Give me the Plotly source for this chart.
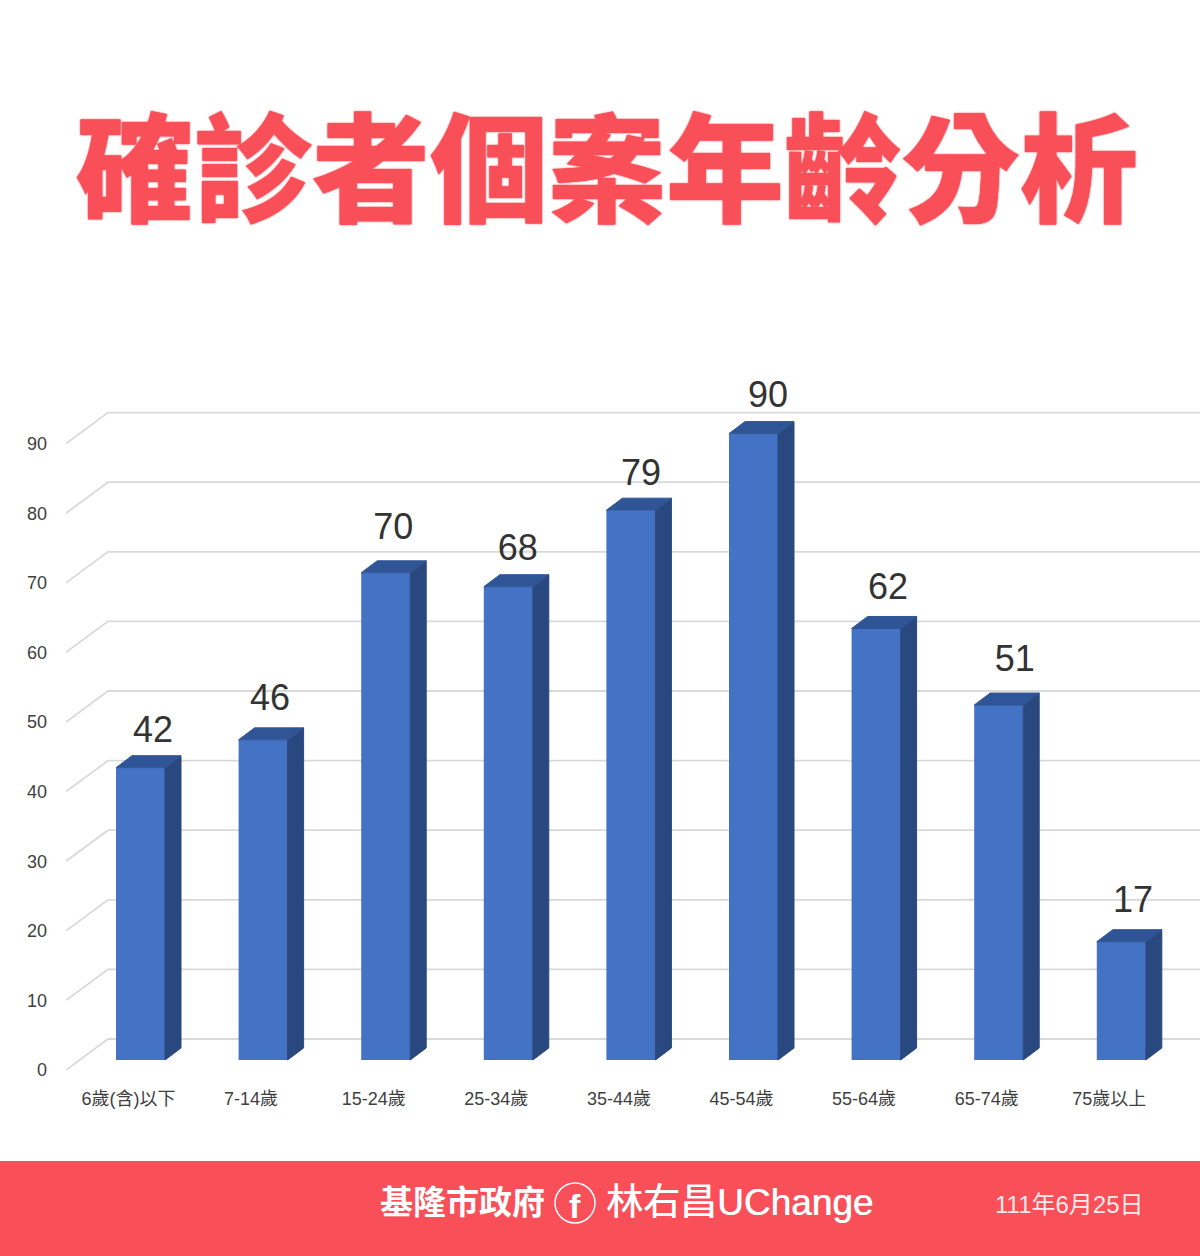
import plotly.graph_objects as go

categories = ["6歲(含)以下", "7-14歲", "15-24歲", "25-34歲", "35-44歲", "45-54歲", "55-64歲", "65-74歲", "75歲以上"]
cases = [42, 46, 70, 68, 79, 90, 62, 51, 17]
y_ticks = [0, 10, 20, 30, 40, 50, 60, 70, 80, 90]

TITLE = "確診者個案年齡分析"
RED = "#F94F59"
CJK = "Noto Sans CJK TC"
SANS = "Liberation Sans, Noto Sans CJK TC, sans-serif"
W, H = 1200, 1256

STEP = 122.6      # px per category
UNIT = 6.96       # px per case
L, T, B = 66, 370, 1070
BAR_W = 49 / STEP
DX, DY = 16 / STEP, 12 / UNIT          # bar depth
GX, GY = 42 / STEP, 31 / UNIT          # floor depth
LABEL_DX = [12.5, 7, 7.5, 9.5, 10, 14.5, 12, 16, 11.7]   # label nudges, px
LABEL_GAP = [39, 43, 47, 40, 39, 40, 43, 47, 43]


def px_range(center):
    return [(L - center) / STEP, (W - center) / STEP]


xs = list(range(len(categories)))
x_rng = px_range(128.5)
fig = go.Figure()

# gridlines: side wall + back wall
gx, gy = [], []
for v in y_ticks:
    gx += [x_rng[0], x_rng[0] + GX, x_rng[1], None]
    gy += [v, v + GY, v + GY, None]
fig.add_trace(go.Scatter(x=gx, y=gy, mode="lines", line=dict(color="#D9D9D9", width=1.8),
                         hoverinfo="skip", showlegend=False))

# bars: side and top faces, then the front
h = BAR_W / 2
for x, v in zip(xs, cases):
    fig.add_trace(go.Scatter(
        x=[x + h, x + h + DX, x + h + DX, x + h, x + h],
        y=[0, DY, v + DY, v, 0], mode="lines", fill="toself",
        fillcolor="#29487F", line=dict(color="#29487F", width=1),
        xaxis="x2", yaxis="y2", hoverinfo="skip", showlegend=False))
    fig.add_trace(go.Scatter(
        x=[x - h, x - h + DX, x + h + DX, x + h, x - h],
        y=[v, v + DY, v + DY, v, v], mode="lines", fill="toself",
        fillcolor="#2F5597", line=dict(color="#2F5597", width=1),
        xaxis="x2", yaxis="y2", hoverinfo="skip", showlegend=False))
fig.add_trace(go.Bar(x=xs, y=cases, width=BAR_W, marker=dict(color="#4472C4", line=dict(width=0)),
                     xaxis="x2", yaxis="y2", showlegend=False))

# value labels
fig.add_trace(go.Scatter(
    x=[x + d / STEP for x, d in zip(xs, LABEL_DX)],
    y=[v + 3.4 + (g - 46) / UNIT for v, g in zip(cases, LABEL_GAP)], mode="text",
    text=[str(v) for v in cases], textposition="top center",
    textfont=dict(family=SANS, size=36, color="#333333"),
    xaxis="x2", yaxis="y2", hoverinfo="skip", showlegend=False, cliponaxis=False))

domain_x = [L / W, 1]
domain_y = [1 - B / H, 1 - T / H]
span = (B - T) / UNIT
fig.update_layout(
    width=W, height=H, margin=dict(l=0, r=0, t=0, b=0, autoexpand=False),
    paper_bgcolor="white", plot_bgcolor="rgba(0,0,0,0)", showlegend=False,
    xaxis=dict(domain=domain_x, range=x_rng, tickvals=xs, ticktext=categories, showgrid=False,
               zeroline=False, showline=False, ticks="", ticklabelstandoff=16,
               tickfont=dict(family=SANS, size=18, color="#404040")),
    yaxis=dict(domain=domain_y, range=[0, span], tickvals=y_ticks, showgrid=False, zeroline=False,
               showline=False, ticks="", ticklabelstandoff=18,
               tickfont=dict(family=SANS, size=18, color="#404040")),
    xaxis2=dict(domain=domain_x, range=px_range(140.5), overlaying="x", visible=False),
    yaxis2=dict(domain=domain_y, range=[-10 / UNIT, span - 10 / UNIT], overlaying="y", visible=False),
    shapes=[
        dict(type="rect", xref="paper", yref="paper", x0=0, x1=1, y0=0, y1=1 - 1161 / H,
             fillcolor=RED, line=dict(width=0), layer="below"),
        dict(type="circle", xref="paper", yref="paper", x0=555 / W, x1=595 / W,
             y0=1 - 1223 / H, y1=1 - 1183 / H, line=dict(color="white", width=1.5)),
    ],
)


def note(text, cx, cy, size, family, color="white", weight=400, **kw):
    fig.add_annotation(text=text, xref="paper", yref="paper", x=cx / W, y=1 - cy / H,
                       xanchor="center", yanchor="middle", showarrow=False,
                       font=dict(family=family, size=size, color=color, weight=weight, **kw))


note(TITLE, 607, 161, 118, CJK, RED, 900, shadow=f"0 0 1px {RED}, 0 0 2px {RED}")
note("基隆市政府", 463, 1200, 33, CJK, weight=700)
note("f", 575, 1206, 34, "Liberation Sans", weight=700)
note("林右昌UChange", 739, 1202, 37, "Liberation Sans, Noto Sans CJK TC", weight=400,
     shadow="0.6px 0 white")
note("111年6月25日", 1069, 1204, 24, "Liberation Sans, Noto Sans CJK TC", color="rgba(255,255,255,0.9)")

fig.write_html("out.html", config={"displayModeBar": False},
               post_script="document.body.style.margin='0';")
